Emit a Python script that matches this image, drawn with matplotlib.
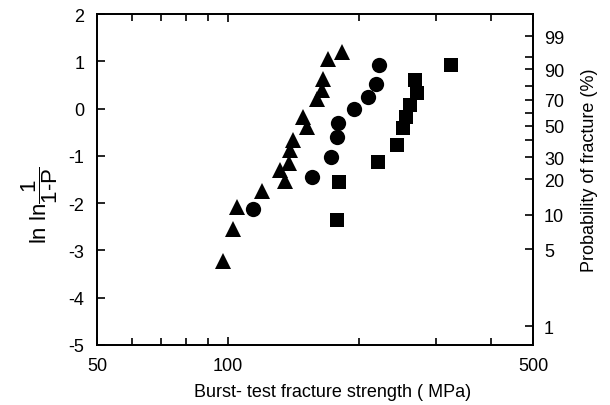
import numpy as np
import matplotlib
matplotlib.use("Agg")
import matplotlib.pyplot as plt
from matplotlib.ticker import FixedLocator, NullFormatter

plt.rcParams['font.family'] = ['Liberation Sans', 'DejaVu Sans']
plt.rcParams['mathtext.fontset'] = 'custom'
plt.rcParams['mathtext.rm'] = 'Liberation Sans'
plt.rcParams['mathtext.it'] = 'Liberation Sans'
plt.rcParams['axes.unicode_minus'] = False

# burst-test strengths (MPa) and ln ln 1/(1-P)
tri_x = [97.1, 102.7, 104.6, 119.7, 131.4, 135.0, 137.8, 138.5, 141.0,
         148.6, 151.4, 159.5, 163.8, 164.7, 169.6, 182.0]
tri_y = [-3.23, -2.55, -2.08, -1.75, -1.30, -1.54, -1.16, -0.88, -0.67,
         -0.18, -0.39, 0.21, 0.39, 0.63, 1.04, 1.20]

circ_x = [113.8, 155.4, 171.8, 177.3, 178.3, 194.6, 209.5, 217.9, 222.1]
circ_y = [-2.13, -1.44, -1.03, -0.61, -0.31, 0.00, 0.25, 0.53, 0.92]

sq_x = [177.3, 179.5, 220.9, 243.4, 251.0, 255.7, 261.2, 270.5, 268.1, 324.3]
sq_y = [-2.35, -1.55, -1.14, -0.78, -0.41, -0.18, 0.07, 0.32, 0.60, 0.92]

prob_major = [99, 90, 70, 50, 30, 20, 10, 5, 1]
prob_minor = [95, 80, 60, 40]

fig = plt.figure(figsize=(6.1, 4.06), dpi=100)
ax = fig.add_axes([97/610, 1-346/406, 436/610, 331/406])

ax.plot(tri_x, tri_y, '^', color='black', ms=12, mew=0)
ax.plot(circ_x, circ_y, 'o', color='black', ms=11, mew=0)
ax.plot(sq_x, sq_y, 's', color='black', ms=10, mew=0)

ax.set_xscale('log')
ax.set_xlim(50, 500)
ax.set_ylim(-5, 2)
ax.xaxis.set_major_locator(FixedLocator([50, 100, 500]))
ax.xaxis.set_minor_locator(FixedLocator([60, 70, 80, 90, 200, 300, 400]))
ax.xaxis.set_minor_formatter(NullFormatter())
ax.set_xticklabels(['50', '100', '500'])
ax.set_yticks(range(-5, 3))
ax.tick_params(axis='both', which='both', direction='in', labelsize=13,
               width=1.2, top=True)
ax.tick_params(axis='x', which='major', length=6, pad=9)
ax.tick_params(axis='x', which='minor', length=5)
ax.tick_params(axis='y', length=6, pad=9)
for s in ax.spines.values():
    s.set_linewidth(1.3)

ax2 = ax.twinx()
ax2.set_ylim(-5, 2)
pm = np.array(prob_major) / 100.0
pn = np.array(prob_minor) / 100.0
ax2.set_yticks(np.log(-np.log(1 - pm)))
ax2.set_yticklabels([str(p) for p in prob_major])
ax2.set_yticks(np.log(-np.log(1 - pn)), minor=True)
ax2.tick_params(axis='y', which='both', direction='in', length=6,
                width=1.2, labelsize=13, pad=8)
for s in ax2.spines.values():
    s.set_linewidth(1.3)

fig.text(333/610, 1-393/406, 'Burst- test fracture strength ( MPa)',
         ha='center', va='center', fontsize=13)
fig.text(590/610, 1-170/406, 'Probability of fracture (%)',
         ha='center', va='center', rotation=90, fontsize=13)
fig.text(40/610, 1-205/406, r'$\mathrm{ln\ ln}\dfrac{1}{\text{1-P}}$',
         ha='center', va='center', rotation=90, fontsize=16)

fig.savefig('out.png', dpi=100)
